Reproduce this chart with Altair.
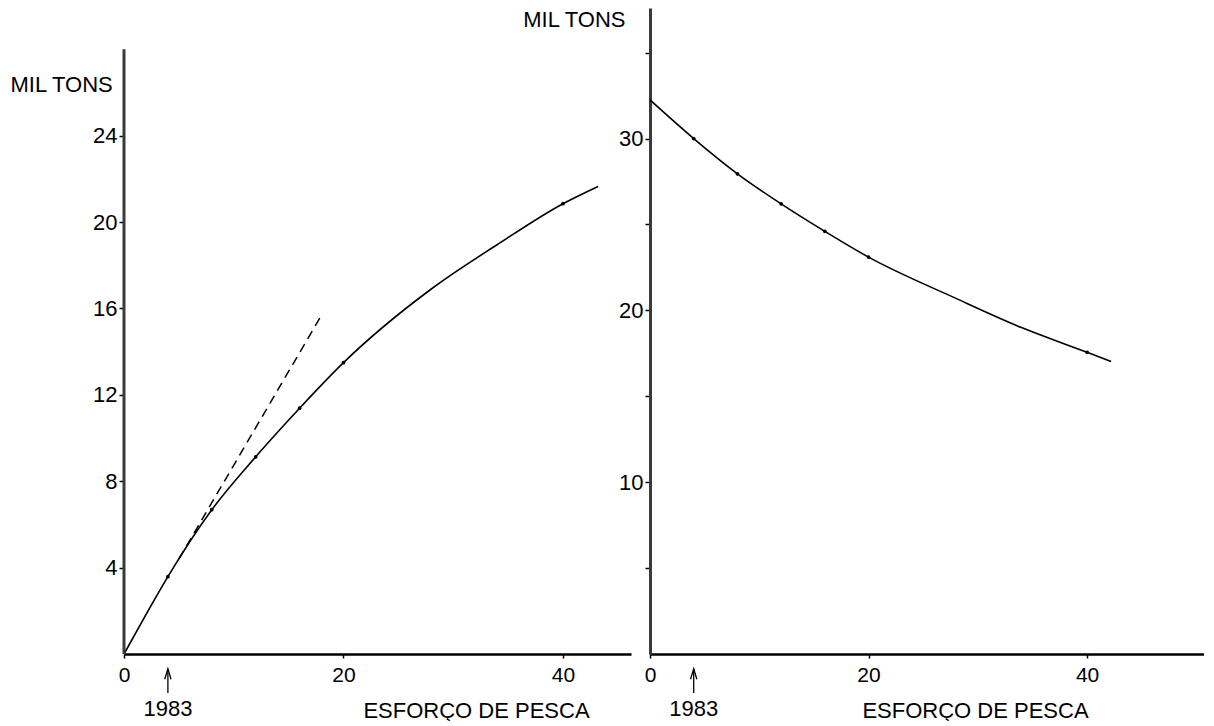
import altair as alt
import pandas as pd

# ---------------- data ----------------
# Left panel: catch (mil tons) vs fishing effort, rising curve
left_curve_x = [0, 2, 4, 8, 12, 16, 20, 28, 34, 40, 43.2]
left_curve_y = [0, 1.82, 3.58, 6.68, 9.13, 11.38, 13.49, 16.9, 18.95, 20.85, 21.65]
left_pts_x = [4, 8, 12, 16, 20, 40]
left_pts_y = [3.58, 6.68, 9.13, 11.38, 13.49, 20.85]
dash_x = [5, 17.9]
dash_y = [4.4, 15.6]

# Right panel: decreasing curve
right_curve_x = [0, 4, 8, 12, 16, 20, 28, 34, 40, 42.2]
right_curve_y = [32.25, 30.0, 27.95, 26.2, 24.6, 23.1, 20.7, 19.0, 17.56, 17.02]
right_pts_x = [4, 8, 12, 16, 20, 40]
right_pts_y = [30.0, 27.95, 26.2, 24.6, 23.1, 17.56]

left_yticks = [4, 8, 12, 16, 20, 24]
right_yticks = [5, 10, 15, 20, 25, 30, 35]
x_ticks = [0, 20, 40]
year_x = [4]
year_label = ["1983"]
left_axis_top = [28]

FONT = "Liberation Sans"
H = 646

df_lc = pd.DataFrame({"x": left_curve_x, "y": left_curve_y})
df_lp = pd.DataFrame({"x": left_pts_x, "y": left_pts_y})
df_ld = pd.DataFrame({"x": dash_x, "y": dash_y})
df_rc = pd.DataFrame({"x": right_curve_x, "y": right_curve_y})
df_rp = pd.DataFrame({"x": right_pts_x, "y": right_pts_y})
df_year = pd.DataFrame({"x": year_x, "label": year_label})
df_laxis = pd.DataFrame({"x": [0], "y": [0], "y1": left_axis_top})

arrow_head = "M -0.6 1 L 0 -1 L 0.6 1"


def x_axis(title_x):
    return alt.Axis(values=x_ticks, grid=False, domainColor="black", domainWidth=2.5,
                    tickColor="black", tickSize=4, tickWidth=1.5, labelPadding=6,
                    labelFlush=False, labelFontSize=21, labelFont=FONT, labelColor="black",
                    title="ESFORÇO DE PESCA", titleX=title_x, titleY=56, titleAngle=0,
                    titleAlign="center", titleBaseline="middle", titleFontSize=22,
                    titleFont=FONT, titleFontWeight="normal", titleColor="black")


# ---------------- left panel ----------------
lxs = alt.Scale(domain=[0, 46.2], nice=False, zero=False)
lys = alt.Scale(domain=[0, 29.91], nice=False, zero=False)
lxa = x_axis(352)
lya = alt.Axis(
    values=left_yticks, grid=False, domain=False, tickColor="black", tickSize=5,
    tickWidth=1.5, labelPadding=2, labelFontSize=22, labelFont=FONT,
    labelColor="black", labelFlush=False, title="MIL TONS", titleAngle=0,
    titleX=-114, titleY=76, titleAlign="left", titleBaseline="middle",
    titleFontSize=22, titleFont=FONT, titleFontWeight="normal", titleColor="black")
LX = alt.X("x:Q", scale=lxs, axis=lxa)
LY = alt.Y("y:Q", scale=lys, axis=lya)

l_curve = alt.Chart(df_lc).mark_line(color="black", strokeWidth=1.6,
                                      interpolate="monotone").encode(x=LX, y=LY)
l_dash = alt.Chart(df_ld).mark_line(color="black", strokeWidth=1.5,
                                     strokeDash=[9, 6]).encode(x=LX, y=LY)
l_pts = alt.Chart(df_lp).mark_circle(color="black", size=14, opacity=1).encode(x=LX, y=LY)
l_axis = alt.Chart(df_laxis).mark_rule(color="#3a3a3a", strokeWidth=3).encode(
    x=LX, y=LY, y2="y1:Q")


def year_layers(data, X):
    rule = alt.Chart(data).mark_rule(color="black", strokeWidth=1.3).encode(
        x=X, y=alt.value(H + 15), y2=alt.value(H + 39))
    head = alt.Chart(data).mark_point(shape=arrow_head, filled=False, color="black",
                                      strokeWidth=1.3, size=110, opacity=1).encode(
        x=X, y=alt.value(H + 20))
    txt = alt.Chart(data).mark_text(font=FONT, fontSize=22, color="black",
                                    baseline="middle", align="center").encode(
        x=X, y=alt.value(H + 55), text="label:N")
    return [rule, head, txt]


left = alt.layer(l_curve, l_dash, l_pts, l_axis,
                 *year_layers(df_year, LX)).properties(width=507, height=H)

# ---------------- right panel ----------------
rxs = alt.Scale(domain=[0, 50.7], nice=False, zero=False)
rys = alt.Scale(domain=[0, 37.6], nice=False, zero=False)
rya = alt.Axis(
    values=right_yticks, labelExpr="datum.value % 10 === 0 ? datum.label : ''",
    grid=False, domainColor="#3a3a3a", domainWidth=3, tickColor="black", tickSize=5,
    tickWidth=1.5, labelPadding=2, labelFontSize=22, labelFont=FONT,
    labelColor="black", labelFlush=False, title="MIL TONS", titleAngle=0,
    titleX=-25, titleY=11, titleAlign="right", titleBaseline="middle",
    titleFontSize=22, titleFont=FONT, titleFontWeight="normal", titleColor="black")
RX = alt.X("x:Q", scale=rxs, axis=x_axis(325))
RY = alt.Y("y:Q", scale=rys, axis=rya)

r_curve = alt.Chart(df_rc).mark_line(color="black", strokeWidth=1.6,
                                      interpolate="monotone").encode(x=RX, y=RY)
r_pts = alt.Chart(df_rp).mark_circle(color="black", size=14, opacity=1).encode(x=RX, y=RY)

right = alt.layer(r_curve, r_pts, *year_layers(df_year, RX)).properties(width=554, height=H)

chart = alt.hconcat(left, right, spacing=19, bounds="flush").properties(
    padding={"left": 2, "top": 0, "right": 0, "bottom": 0},
    background="white",
).configure_view(stroke=None)

chart.save("out.html", embed_options={"renderer": "svg", "actions": False})
